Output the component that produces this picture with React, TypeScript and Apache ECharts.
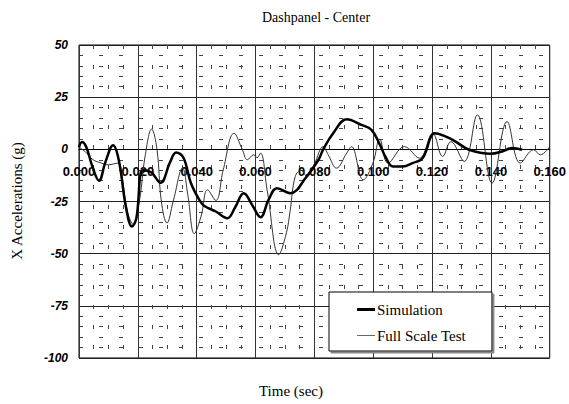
import React, { useEffect, useRef } from "react";
import * as echarts from "echarts";

const simTime = [0.000, 0.001, 0.0025, 0.0045, 0.0068, 0.009, 0.0116, 0.0135, 0.016, 0.018, 0.0195, 0.0217, 0.0245, 0.0277, 0.031, 0.033, 0.0355, 0.038, 0.0408, 0.0425, 0.0465, 0.0504, 0.053, 0.056, 0.059, 0.0617, 0.0645, 0.0673, 0.0718, 0.0774, 0.0814, 0.083, 0.0864, 0.091, 0.096, 0.0994, 0.102, 0.1044, 0.1067, 0.110, 0.1134, 0.1168, 0.1196, 0.1208, 0.1247, 0.128, 0.1326, 0.140, 0.1438, 0.1472, 0.1506];
const simValues = [1, 3.5, 1, -8, -15, -6, 2, -5, -28, -37, -33, -10, -11, -16, -6, -1.5, -4, -16, -24, -27, -29.8, -33, -28, -21, -27, -32.5, -24, -18.6, -21, -13, -5, 0, 7.7, 14.4, 11.7, 9.3, 3, -4.2, -8.2, -8.2, -6.6, -4.2, 6, 7.7, 6.1, 3.7, -0.2, -2.1, -1, 0.6, -0.2];

const testTime = [0.000, 0.002, 0.0048, 0.0075, 0.0099, 0.0133, 0.0145, 0.0165, 0.0185, 0.0205, 0.0225, 0.0247, 0.0265, 0.028, 0.0299, 0.032, 0.0352, 0.037, 0.0392, 0.0415, 0.0437, 0.0465, 0.049, 0.0527, 0.0555, 0.0572, 0.0594, 0.0605, 0.0617, 0.064, 0.0679, 0.0705, 0.0718, 0.0735, 0.0755, 0.0775, 0.080, 0.083, 0.0847, 0.0875, 0.091, 0.0926, 0.0966, 0.0999, 0.1022, 0.105, 0.1106, 0.1157, 0.1202, 0.1236, 0.1264, 0.1309, 0.1354, 0.1404, 0.1455, 0.150, 0.1545, 0.1568, 0.160];
const testValues = [1, -1, -5, -6.5, -7.4, -6.6, -12, -30, -36, -25, -3, 9.7, 0, -25, -35.3, -25, -9, -22, -40.4, -32, -19.4, -24.5, -10, 7.7, 0, -5, -2.6, -4, -1.8, -20, -50.5, -40, -29, -13, -10, -13, -7, 1.3, -2.6, -9, -1.8, 1.3, -14.6, -6.6, 4.9, -6.6, 1.3, -4.2, 7.7, -3.4, 3.7, -5.8, 16.5, -16.2, 13.3, -6.6, -0.2, -2.6, 1.3];

const seriesNames = ["Simulation", "Full Scale Test"];
const titleText = "Dashpanel - Center";
const xName = "Time (sec)";
const yName = "X Accelerations (g)";

const Y_MIN = -100;
const Y_MAX = 50;
const GRID_TOP = 45;
const GRID_BOTTOM = 46;
const CHART_H = 404;

export default function App() {
  const ref = useRef<HTMLDivElement>(null);
  useEffect(() => {
    document.body.style.margin = "0";
    const chart = echarts.init(ref.current!, null, { renderer: "svg" });
    const zip = (t: number[], v: number[]) => t.map((x, i) => [x, v[i]]);
    const plotH = CHART_H - GRID_TOP - GRID_BOTTOM;
    const zeroFromBottom = (0 - Y_MIN) / (Y_MAX - Y_MIN) * plotH;
    const serif = { fontFamily: "Liberation Serif", fill: "#000", textAlign: "center", textVerticalAlign: "middle" };
    chart.setOption({
      animation: false,
      backgroundColor: "#fff",
      grid: { left: 79, right: 16, top: GRID_TOP, bottom: GRID_BOTTOM, show: true, borderColor: "#000", borderWidth: 1 },
      graphic: [
        { type: "text", x: 316, y: 17, style: { ...serif, text: titleText, fontSize: 14 } },
        { type: "text", x: 291, y: 391, style: { ...serif, text: xName, fontSize: 15 } },
        { type: "text", x: 17, y: 201, rotation: Math.PI / 2, style: { ...serif, text: yName, fontSize: 15 } },
      ],
      legend: {
        data: [
          { name: seriesNames[0], icon: "path://M0,0H18V3H0Z", itemStyle: { color: "#000", borderWidth: 0 } },
          { name: seriesNames[1], icon: "path://M0,0H18V1H0Z", itemStyle: { color: "#666", borderWidth: 0 } },
        ],
        orient: "vertical",
        left: 329,
        top: 292,
        padding: [10, 26, 8, 28],
        itemGap: 11,
        itemWidth: 18,
        itemHeight: 15,
        backgroundColor: "#fff",
        borderColor: "#000",
        borderWidth: 1,
        shadowColor: "#888",
        shadowOffsetX: 2,
        shadowOffsetY: 2,
        shadowBlur: 0,
        textStyle: { fontFamily: "Liberation Serif", fontSize: 15, color: "#000", padding: [0, 0, 0, -3] },
      },
      xAxis: {
        type: "value",
        min: 0,
        max: 0.16,
        interval: 0.02,
        offset: -zeroFromBottom,
        axisLine: { show: true, onZero: false, lineStyle: { color: "#000", width: 1 } },
        axisTick: { show: false },
        axisLabel: {
          formatter: (v: number) => v.toFixed(3),
          fontFamily: "Liberation Sans",
          fontWeight: "bold",
          fontSize: 13,
          color: "#000",
          margin: 16,
          showMinLabel: true,
          showMaxLabel: true,
        },
        splitLine: { show: true, lineStyle: { color: "#333", width: 1 } },
        minorTick: { show: false, splitNumber: 4 },
        minorSplitLine: { show: true, lineStyle: { color: "#444", width: 1, type: [4, 16] } },
      },
      yAxis: {
        type: "value",
        min: Y_MIN,
        max: Y_MAX,
        interval: 25,
        axisLine: { show: false },
        axisTick: { show: false },
        axisLabel: {
          fontFamily: "Liberation Sans",
          fontWeight: "bold",
          fontStyle: "italic",
          fontSize: 12,
          color: "#000",
          margin: 11,
        },
        splitLine: { show: true, lineStyle: { color: "#222", width: 1 } },
        minorTick: { show: false, splitNumber: 5 },
        minorSplitLine: { show: true, lineStyle: { color: "#444", width: 1, type: [4, 16] } },
      },
      series: [
        {
          name: seriesNames[0],
          type: "line",
          data: zip(simTime, simValues),
          symbol: "none",
          smooth: 0.4,
          lineStyle: { color: "#000", width: 2.5 },
          itemStyle: { color: "#000" },
          z: 3,
        },
        {
          name: seriesNames[1],
          type: "line",
          data: zip(testTime, testValues),
          symbol: "none",
          smooth: 0.4,
          lineStyle: { color: "#333", width: 1 },
          itemStyle: { color: "#666" },
          z: 2,
        },
      ],
    });
    return () => chart.dispose();
  }, []);
  return <div ref={ref} style={{ width: 569, height: 404 }} />;
}
